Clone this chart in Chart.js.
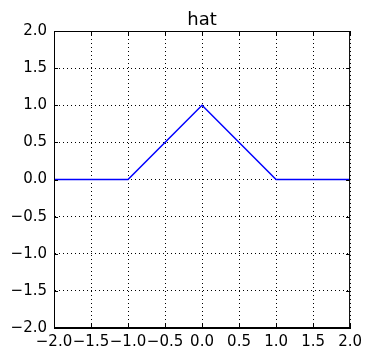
<!DOCTYPE html>
<html>
<head>
<meta charset="utf-8">
<script src="https://cdn.jsdelivr.net/npm/chart.js@4"></script>
<style>
  html, body { margin: 0; padding: 0; background: #fff; }
  #wrap { width: 367px; height: 355px; }
</style>
</head>
<body>
<div id="wrap"><canvas id="hatChart" width="367" height="355"></canvas></div>
<script>
const chartTitle = 'hat';
const xValues = [-2, -1, 0, 1, 2];
const yValues = [0, 0, 1, 0, 0];
const tickValues = [-2, -1.5, -1, -0.5, 0, 0.5, 1, 1.5, 2];

const fmt = v => (v < 0 ? '\u2212' : '') + Math.abs(v).toFixed(1);

// titre centré sur la zone du graphe, cadre complet + petits ticks vers l'intérieur
const framePlugin = {
    id: 'frame',
    afterDraw(chart) {
        const { ctx, chartArea: a, scales } = chart;
        ctx.save();
        ctx.fillStyle = '#000';
        ctx.font = '18px "DejaVu Sans"';
        ctx.textAlign = 'center';
        ctx.textBaseline = 'alphabetic';
        ctx.fillText(chartTitle, (a.left + a.right) / 2, 25);

        ctx.strokeStyle = '#000';
        ctx.lineWidth = 1;
        ctx.strokeRect(a.left + 0.5, a.top + 0.5, a.right - a.left - 1, a.bottom - a.top - 1);
        ctx.beginPath();
        tickValues.forEach(v => {
            const x = Math.round(scales.x.getPixelForValue(v)) + 0.5;
            ctx.moveTo(x, a.bottom); ctx.lineTo(x, a.bottom - 4);
            ctx.moveTo(x, a.top); ctx.lineTo(x, a.top + 4);
            const y = Math.round(scales.y.getPixelForValue(v)) + 0.5;
            ctx.moveTo(a.left, y); ctx.lineTo(a.left + 4, y);
            ctx.moveTo(a.right, y); ctx.lineTo(a.right - 4, y);
        });
        ctx.stroke();
        ctx.restore();
    }
};

new Chart(document.getElementById('hatChart'), {
    type: 'line',
    data: {
        datasets: [{
            data: xValues.map((x, i) => ({ x: x, y: yValues[i] })),
            borderColor: '#0000ff',
            borderWidth: 1.5,
            pointRadius: 0,
            tension: 0,
            fill: false
        }]
    },
    options: {
        responsive: false,
        animation: false,
        layout: { padding: { left: 0, right: 15, top: 31, bottom: 0 } },
        plugins: {
            legend: { display: false },
            tooltip: { enabled: false },
            title: { display: false }
        },
        scales: {
            x: {
                type: 'linear',
                min: -2, max: 2,
                afterBuildTicks: s => { s.ticks = tickValues.map(v => ({ value: v })); },
                afterFit: s => { s.height = 27; },
                ticks: {
                    color: '#000',
                    font: { family: 'DejaVu Sans', size: 15 },
                    padding: 5,
                    maxRotation: 0,
                    autoSkip: false,
                    callback: v => fmt(v)
                },
                grid: { color: '#000', lineWidth: 1, drawTicks: false },
                border: { display: true, color: '#000', dash: [1, 3] }
            },
            y: {
                type: 'linear',
                min: -2, max: 2,
                afterBuildTicks: s => { s.ticks = tickValues.map(v => ({ value: v })); },
                afterFit: s => { s.width = 54; },
                ticks: {
                    color: '#000',
                    font: { family: 'DejaVu Sans', size: 15 },
                    padding: 7,
                    autoSkip: false,
                    callback: v => fmt(v)
                },
                grid: { color: '#000', lineWidth: 1, drawTicks: false },
                border: { display: true, color: '#000', dash: [1, 3] }
            }
        }
    },
    plugins: [framePlugin]
});
</script>
</body>
</html>
